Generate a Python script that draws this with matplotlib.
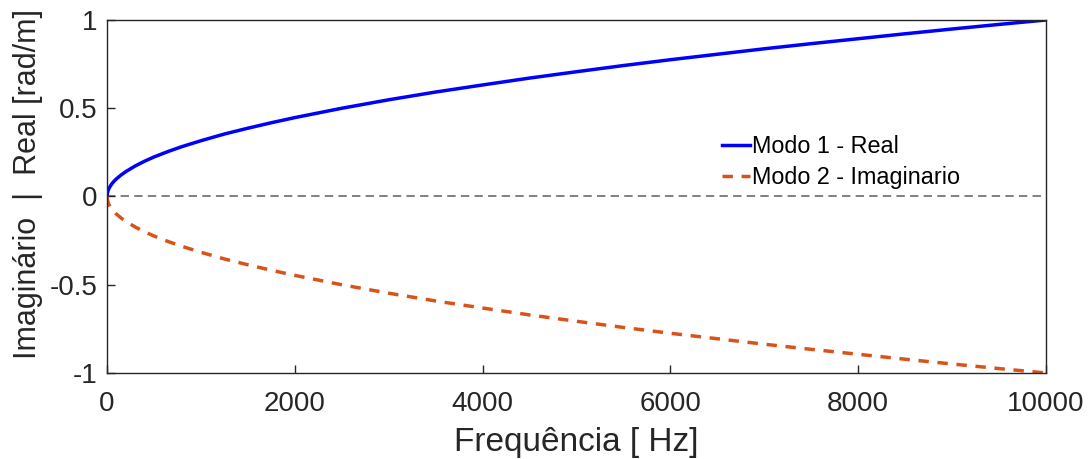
import numpy as np
import matplotlib.pyplot as plt

# valores
freq = [0, 5, 10, 20, 35, 50, 75, 100, 150, 200, 300, 400, 500, 650, 800,
        1000, 1250, 1500, 1750, 2000, 2500, 3000, 3500, 4000, 4500, 5000,
        5500, 6000, 6500, 7000, 7500, 8000, 8500, 9000, 9500, 10000]
modo1_real = [0, 0.022, 0.032, 0.045, 0.059, 0.071, 0.087, 0.100, 0.122,
              0.141, 0.173, 0.200, 0.224, 0.255, 0.283, 0.316, 0.354, 0.387,
              0.418, 0.447, 0.500, 0.548, 0.592, 0.632, 0.671, 0.707, 0.742,
              0.775, 0.806, 0.837, 0.866, 0.894, 0.922, 0.949, 0.975, 1.0]
modo2_imag = [0, -0.022, -0.032, -0.045, -0.059, -0.071, -0.087, -0.100,
              -0.122, -0.141, -0.173, -0.200, -0.224, -0.255, -0.283, -0.316,
              -0.354, -0.387, -0.418, -0.447, -0.500, -0.548, -0.592, -0.632,
              -0.671, -0.707, -0.742, -0.775, -0.806, -0.837, -0.866, -0.894,
              -0.922, -0.949, -0.975, -1.0]
xticks = [0, 2000, 4000, 6000, 8000, 10000]
yticks = [-1, -0.5, 0, 0.5, 1]
yticklabels = ['-1', '-0.5', '0', '0.5', '1']

plt.rcParams['font.family'] = ['Liberation Sans', 'DejaVu Sans']
cor_eixo = '#262626'

fig = plt.figure(figsize=(10.89, 4.59), dpi=100)
ax = fig.add_axes([0.0983, 0.1874, 0.8622, 0.769])

ax.plot(freq, modo1_real, color=(0, 0, 1), linewidth=2.5, label='Modo 1 - Real')
ax.plot(freq, modo2_imag, color=(0.85, 0.325, 0.098), linewidth=2.5,
        linestyle=(0, (3, 2.5)), label='Modo 2 - Imaginario')
# linha de referencia em zero
ax.axhline(0, color='#808080', linewidth=1.4, linestyle=(0, (4.3, 2.7)), zorder=0)

ax.set_xlim(0, 10000)
ax.set_ylim(-1, 1)
ax.set_xticks(xticks)
ax.set_yticks(yticks)
ax.set_yticklabels(yticklabels)
ax.tick_params(direction='in', length=6, width=1, colors=cor_eixo,
               labelsize=20, top=False, right=False)
ax.tick_params(axis='x', pad=13)
ax.tick_params(axis='y', pad=7)
for s in ax.spines.values():
    s.set_color(cor_eixo)
    s.set_linewidth(1)

ax.set_xlabel('Frequência [ Hz]', fontsize=24, color=cor_eixo, labelpad=7)
ax.set_ylabel('Imaginário  |  Real [rad/m]', fontsize=22, color=cor_eixo)
ax.yaxis.set_label_coords(-0.068, 0.535)

ax.legend(loc='upper left', bbox_to_anchor=(0.645, 0.70), frameon=False,
          fontsize=16.8, handlelength=1.2, handletextpad=0.1,
          labelspacing=0.35, borderaxespad=0)

plt.savefig('out.png', dpi=100)
